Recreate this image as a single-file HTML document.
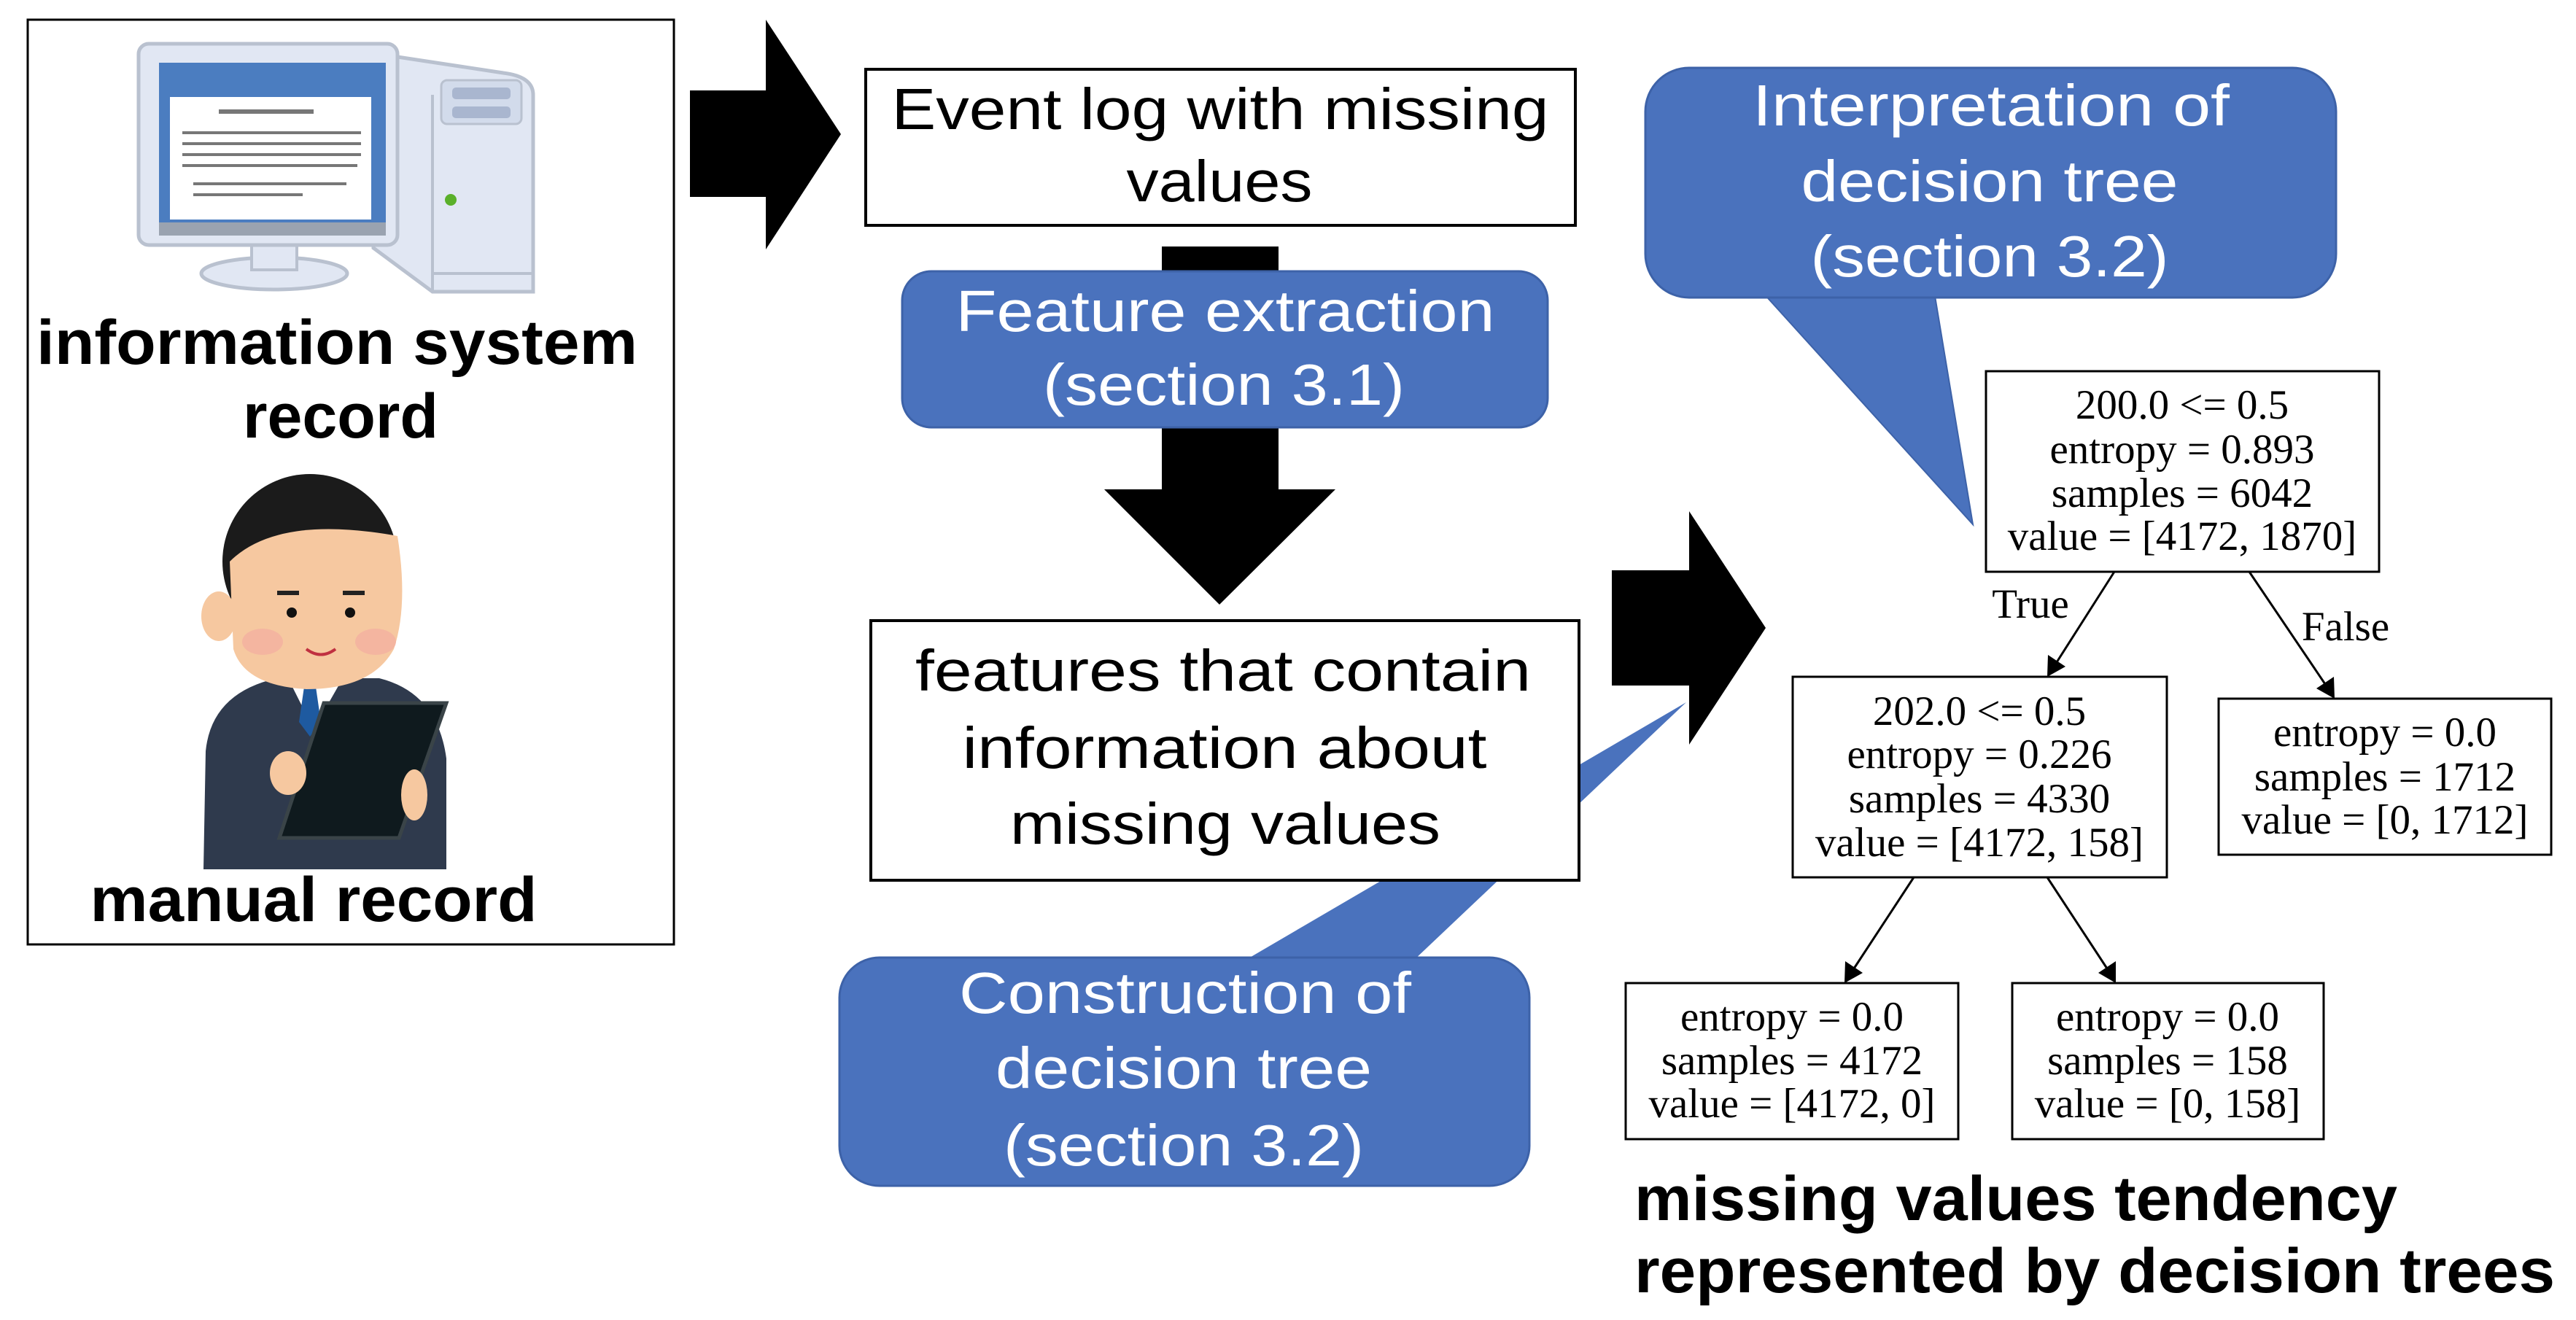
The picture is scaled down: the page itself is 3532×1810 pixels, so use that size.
<!DOCTYPE html>
<html><head><meta charset="utf-8"><style>html,body{margin:0;padding:0;background:#fff}svg{display:block}</style></head>
<body>
<svg width="3532" height="1810" viewBox="0 0 3532 1810" xmlns="http://www.w3.org/2000/svg">
<rect width="3532" height="1810" fill="#fff"/>
<rect x="38" y="27" width="886" height="1268" fill="#fff" stroke="#000" stroke-width="3"/>
<g>
<path d="M512 73 L690 100 Q731 105 731 130 L731 400 L593 400 L512 340 Z" fill="#e1e7f3" stroke="#b9c1cf" stroke-width="5"/>
<rect x="605" y="110" width="110" height="60" rx="8" fill="#d2dbeb" stroke="#b9c1cf" stroke-width="3"/>
<rect x="620" y="120" width="80" height="16" rx="5" fill="#a9b6cf"/>
<rect x="620" y="146" width="80" height="16" rx="5" fill="#a9b6cf"/>
<line x1="593" y1="130" x2="593" y2="400" stroke="#b9c1cf" stroke-width="4"/>
<line x1="593" y1="375" x2="731" y2="375" stroke="#b9c1cf" stroke-width="4"/>
<circle cx="618" cy="274" r="8" fill="#5ab02a"/>
<ellipse cx="376" cy="375" rx="100" ry="22" fill="#e1e7f3" stroke="#b9c1cf" stroke-width="5"/>
<rect x="345" y="330" width="62" height="40" fill="#e1e7f3" stroke="#b9c1cf" stroke-width="4"/>
<rect x="190" y="60" width="355" height="276" rx="14" fill="#e1e7f3" stroke="#b9c1cf" stroke-width="5"/>
<rect x="218" y="86" width="311" height="237" fill="#4b7dc0"/>
<rect x="233" y="133" width="276" height="168" fill="#fff"/>
<rect x="218" y="305" width="311" height="18" fill="#9aa3b0"/>
<g fill="#777">
<rect x="300" y="150" width="130" height="6"/><rect x="250" y="180" width="245" height="4"/><rect x="250" y="195" width="245" height="4"/><rect x="250" y="210" width="245" height="4"/><rect x="250" y="225" width="240" height="4"/><rect x="265" y="250" width="210" height="4"/><rect x="265" y="265" width="150" height="4"/>
</g>
</g>
<g>
<path d="M279 1192 L282 1030 Q290 950 380 930 L520 930 Q600 950 612 1040 L612 1192 Z" fill="#2f3a4d"/>
<path d="M395 930 L430 1000 L470 930 Z" fill="#fff"/>
<path d="M418 935 L432 935 L440 990 L425 1010 L410 990 Z" fill="#1e5aa0"/>
<circle cx="425" cy="770" r="120" fill="#1b1b1b"/>
<ellipse cx="300" cy="845" rx="24" ry="34" fill="#f6c8a0"/>
<path d="M315 770 Q380 705 545 735 Q560 830 540 890 Q510 945 420 945 Q335 940 320 890 Z" fill="#f6c8a0"/>
<circle cx="400" cy="840" r="7" fill="#111"/><circle cx="480" cy="840" r="7" fill="#111"/>
<rect x="380" y="810" width="30" height="6" fill="#222"/><rect x="470" y="810" width="30" height="6" fill="#222"/>
<path d="M420 890 Q440 905 460 890" stroke="#c03040" stroke-width="4" fill="none"/>
<ellipse cx="360" cy="880" rx="28" ry="18" fill="#f4a9a0" opacity=".6"/><ellipse cx="515" cy="880" rx="28" ry="18" fill="#f4a9a0" opacity=".6"/>
<polygon points="612,964 547,1149 383,1149 444,964" fill="#0f1a1e" stroke="#3a4448" stroke-width="5"/>
<ellipse cx="395" cy="1060" rx="25" ry="30" fill="#f6c8a0"/>
<ellipse cx="568" cy="1090" rx="18" ry="35" fill="#f6c8a0"/>
</g>
<g font-family="Liberation Sans, sans-serif" font-weight="bold" font-size="86" fill="#000" text-anchor="middle">
<text x="462" y="499" textLength="824" lengthAdjust="spacingAndGlyphs">information system</text>
<text x="467" y="600" textLength="268" lengthAdjust="spacingAndGlyphs">record</text>
<text x="430" y="1263" textLength="613" lengthAdjust="spacingAndGlyphs">manual record</text>
</g>
<polygon points="946,124 1050,124 1050,27 1153,184 1050,342 1050,270 946,270" fill="#000"/>
<polygon points="1593,338 1753,338 1753,671 1831,671 1672,829 1514,671 1593,671" fill="#000"/>
<polygon points="2210,782 2316,782 2316,701 2421,861 2316,1021 2316,940 2210,940" fill="#000"/>
<polygon points="1705,1318 2312,963 1937,1318" fill="#4a72bd"/>
<polygon points="2416,400 2705,719 2652,400" fill="#4a72bd" stroke="#3d62a8" stroke-width="2"/>
<rect x="1187" y="95" width="973" height="214" fill="#fff" stroke="#000" stroke-width="4"/>
<rect x="1194" y="851" width="971" height="356" fill="#fff" stroke="#000" stroke-width="4"/>
<rect x="1237" y="372" width="885" height="214" rx="40" fill="#4a72bd" stroke="#3d62a8" stroke-width="3"/>
<rect x="1151" y="1313" width="946" height="313" rx="55" fill="#4a72bd" stroke="#3d62a8" stroke-width="3"/>
<rect x="2256" y="93" width="947" height="315" rx="60" fill="#4a72bd" stroke="#3d62a8" stroke-width="3"/>
<g font-family="Liberation Sans, sans-serif" font-size="80" text-anchor="middle">
<text x="1673" y="177" textLength="901" lengthAdjust="spacingAndGlyphs">Event log with missing</text>
<text x="1672" y="276" textLength="255" lengthAdjust="spacingAndGlyphs">values</text>
<text x="1677" y="947" textLength="844" lengthAdjust="spacingAndGlyphs">features that contain</text>
<text x="1679" y="1053" textLength="719" lengthAdjust="spacingAndGlyphs">information about</text>
<text x="1680" y="1157" textLength="590" lengthAdjust="spacingAndGlyphs">missing values</text>
<g fill="#fff">
<text x="1680" y="454" textLength="739" lengthAdjust="spacingAndGlyphs">Feature extraction</text>
<text x="1678" y="555" textLength="496" lengthAdjust="spacingAndGlyphs">(section 3.1)</text>
<text x="1625" y="1389" textLength="620" lengthAdjust="spacingAndGlyphs">Construction of</text>
<text x="1623" y="1492" textLength="516" lengthAdjust="spacingAndGlyphs">decision tree</text>
<text x="1623" y="1598" textLength="494" lengthAdjust="spacingAndGlyphs">(section 3.2)</text>
<text x="2730" y="172" textLength="654" lengthAdjust="spacingAndGlyphs">Interpretation of</text>
<text x="2728" y="276" textLength="517" lengthAdjust="spacingAndGlyphs">decision tree</text>
<text x="2728" y="379" textLength="491" lengthAdjust="spacingAndGlyphs">(section 3.2)</text>
</g>
</g>
<g fill="#fff" stroke="#000" stroke-width="3">
<rect x="2723" y="509" width="539" height="275"/>
<rect x="2458" y="928" width="513" height="275"/>
<rect x="3042" y="958" width="456" height="214"/>
<rect x="2229" y="1348" width="456" height="214"/>
<rect x="2759" y="1348" width="427" height="214"/>
</g>
<g stroke="#000" stroke-width="3">
<line x1="2899" y1="784" x2="2820" y2="908"/>
<line x1="3084" y1="784" x2="3188" y2="938"/>
<line x1="2624" y1="1203" x2="2542" y2="1328"/>
<line x1="2807" y1="1203" x2="2889" y2="1328"/>
</g>
<g fill="#000">
<polygon points="2807,928 2808,898 2832,914"/>
<polygon points="3201,958 3176,944 3200,928"/>
<polygon points="2529,1348 2530,1318 2554,1334"/>
<polygon points="2901,1348 2877,1334 2901,1318"/>
</g>
<g font-family="Liberation Serif, serif" font-size="57" text-anchor="middle" fill="#000">
<text x="2992" y="574">200.0 &lt;= 0.5</text>
<text x="2992" y="635">entropy = 0.893</text>
<text x="2992" y="695">samples = 6042</text>
<text x="2992" y="754">value = [4172, 1870]</text>
<text x="2714" y="994">202.0 &lt;= 0.5</text>
<text x="2714" y="1053">entropy = 0.226</text>
<text x="2714" y="1114">samples = 4330</text>
<text x="2714" y="1174">value = [4172, 158]</text>
<text x="3270" y="1023">entropy = 0.0</text>
<text x="3270" y="1084">samples = 1712</text>
<text x="3270" y="1143">value = [0, 1712]</text>
<text x="2457" y="1413">entropy = 0.0</text>
<text x="2457" y="1473">samples = 4172</text>
<text x="2457" y="1532">value = [4172, 0]</text>
<text x="2972" y="1413">entropy = 0.0</text>
<text x="2972" y="1473">samples = 158</text>
<text x="2972" y="1532">value = [0, 158]</text>
<text x="2784" y="847">True</text>
<text x="3216" y="878">False</text>
</g>
<g font-family="Liberation Sans, sans-serif" font-weight="bold" font-size="86" fill="#000">
<text x="2241" y="1673" textLength="1046" lengthAdjust="spacingAndGlyphs">missing values tendency</text>
<text x="2241" y="1772" textLength="1262" lengthAdjust="spacingAndGlyphs">represented by decision trees</text>
</g>
</svg>
</body></html>
